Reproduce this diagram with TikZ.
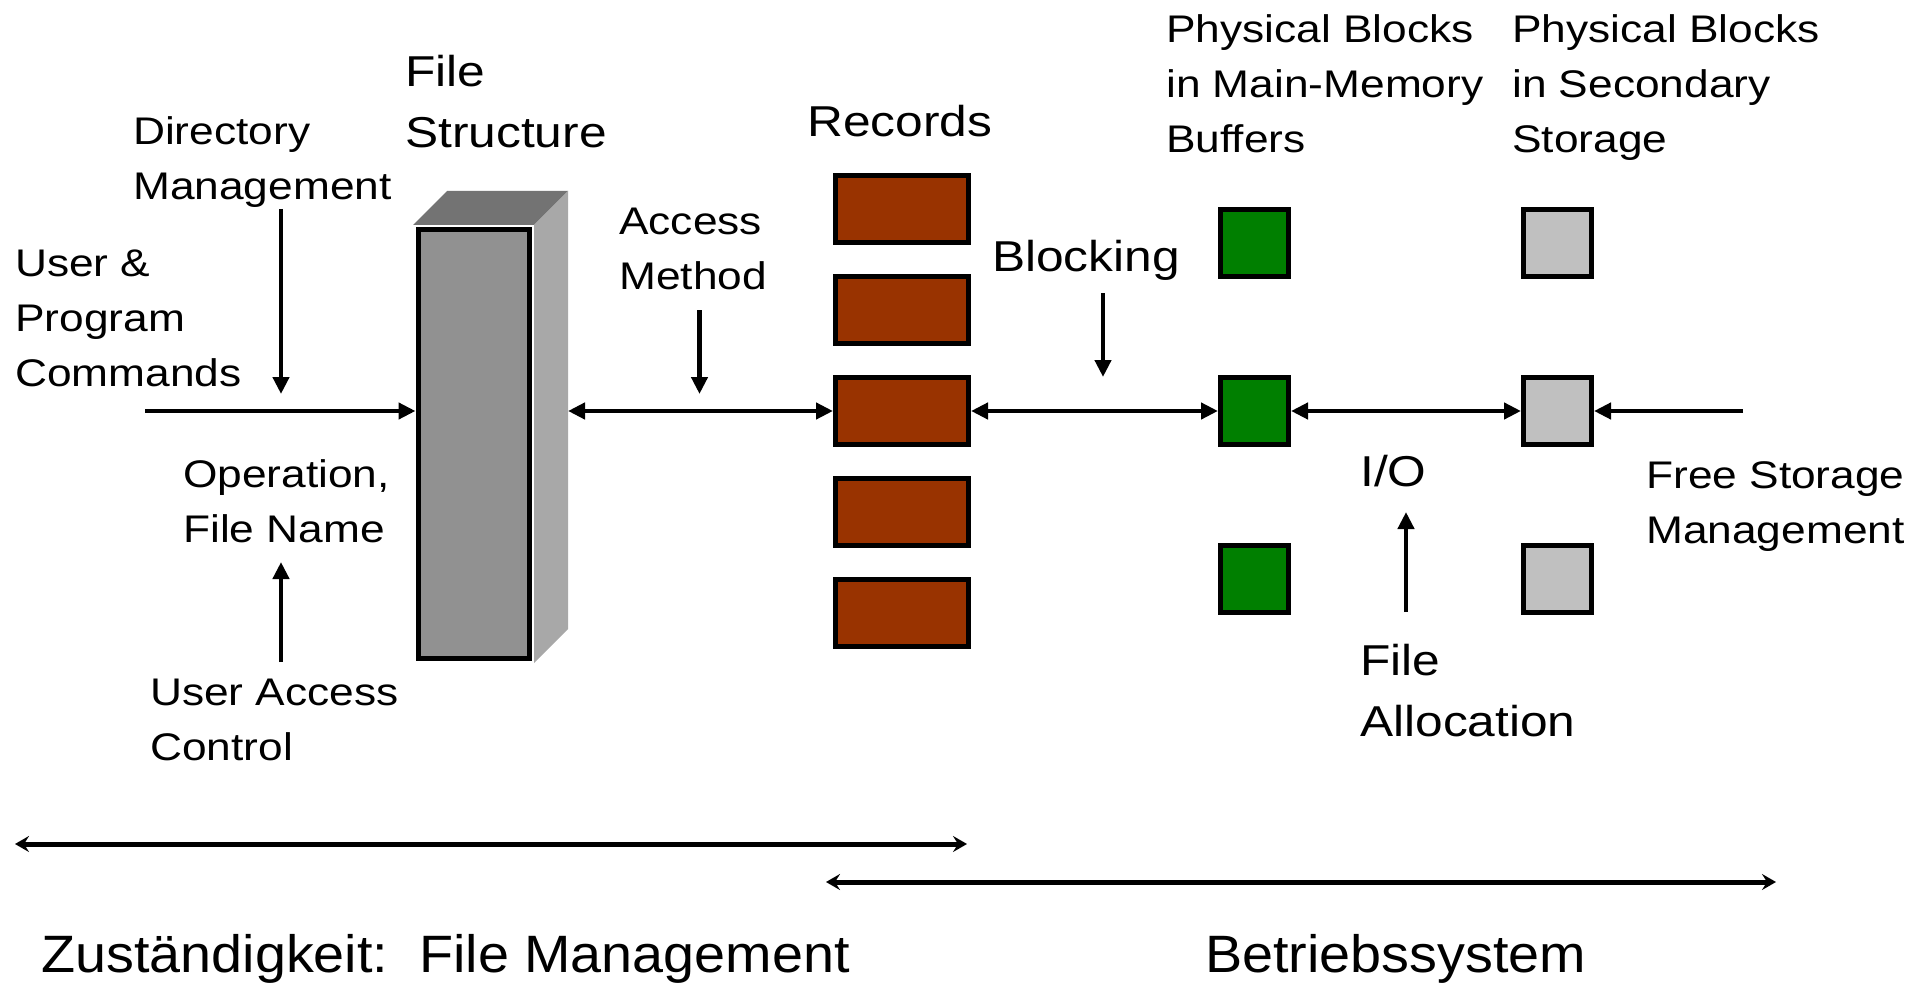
\documentclass[tikz,border=0pt]{standalone}
\usepackage{fontspec}
\usetikzlibrary{arrows.meta}
\newfontfamily\lblfont[FakeStretch=1.15]{Liberation Sans}
\newfontfamily\botfont[FakeStretch=1.06]{Liberation Sans}
\definecolor{recfill}{HTML}{993300}
\definecolor{memfill}{HTML}{007F00}
\definecolor{secfill}{HTML}{C0C0C0}
\definecolor{fsfront}{HTML}{919191}
\definecolor{fstop}{HTML}{737373}
\definecolor{fsside}{HTML}{A8A8A8}
\tikzset{
  % multi-line labels are placed by the baseline of their last line
  small/.style={font=\lblfont\fontsize{38.5}{55}\selectfont, align=left, anchor=base west, inner sep=0pt},
  large/.style={font=\lblfont\fontsize{43.2}{61}\selectfont, align=left, anchor=base west, inner sep=0pt},
  bottom/.style={font=\botfont\fontsize{52.6}{60}\selectfont, anchor=base west, inner sep=0pt},
  recbox/.style={draw=black, line width=5pt, fill=recfill, minimum width=133pt, minimum height=67pt, inner sep=0pt},
  blk/.style={draw=black, line width=5pt, minimum width=68pt, minimum height=67pt, inner sep=0pt},
  tip/.tip={Triangle[length=17pt,width=16pt]},
  flow/.style={line width=4.5pt, -tip},
  bothflow/.style={line width=4.5pt, tip-tip},
  span/.style={line width=5pt, {Stealth[length=14pt,width=16pt,inset=5pt]}-{Stealth[length=14pt,width=16pt,inset=5pt]}},
}
\begin{document}
\begin{tikzpicture}[x=1pt, y=-1pt]
\useasboundingbox (0,0) rectangle (1931,987);

% file structure column: top and side faces behind the front face
\fill[fstop] (413,225) -- (534,225) -- (568,191) -- (447,191) -- cycle;
\fill[fsside] (534,225) -- (568,191) -- (568,629) -- (534,663) -- cycle;
\node[draw=black, line width=5pt, fill=fsfront, minimum width=111pt, minimum height=428pt, inner sep=0pt] (fs) at (473.5,444) {};
\coordinate (fsright) at (568,411);

% records
\foreach \i/\y in {1/209,2/310,3/411,4/512,5/613}
  \node[recbox] (rec\i) at (902,\y) {};

% blocks in main memory and in secondary storage
\foreach \i/\y in {1/243,2/411,3/579} {
  \node[blk, fill=memfill] (mem\i) at (1254.5,\y) {};
  \node[blk, fill=secfill] (sec\i) at (1557.5,\y) {};
}

% labels
\node[large] (fslbl) at (405,148) {File\\Structure};
\node[small] (dirlbl) at (133,199.5) {Directory\\Management};
\node[small] (userlbl) at (15,386.5) {User \&\\Program\\Commands};
\node[small] (oplbl) at (183,542) {Operation,\\File Name};
\node[small] (acclbl) at (150,760) {User Access\\Control};
\node[small] (amlbl) at (619,289.5) {Access\\Method};
\node[large] (reclbl) at (807,137) {Records};
\node[large] (blklbl) at (992,272) {Blocking};
\node[small] (memlbl) at (1166,152.5) {Physical Blocks\\in Main-Memory\\Buffers};
\node[small] (seclbl) at (1512,152.5) {Physical Blocks\\in Secondary\\Storage};
\node[small] (freelbl) at (1646,543) {Free Storage\\Management};
\node[large] (iolbl) at (1360,486.5) {I/O};
\node[large] (alloclbl) at (1360,736.5) {File\\Allocation};
\node[bottom] (fmlbl) at (41,972) {Zuständigkeit:\ \ File Management};
\node[bottom] (oslbl) at (1205,972) {Betriebssystem};

% end points of the free connectors
\coordinate (cmdstart) at (145,411);
\coordinate (dirstart) at (281,209);
\coordinate (dirend) at (281,394);
\coordinate (uacstart) at (281,662);
\coordinate (uacend) at (281,562);
\coordinate (amstart) at (699.5,310);
\coordinate (amend) at (699.5,394);
\coordinate (blkstart) at (1103,293);
\coordinate (blkend) at (1103,377);
\coordinate (allocstart) at (1406,612);
\coordinate (allocend) at (1406,512);
\coordinate (freestart) at (1743,411);
\coordinate (fmleft) at (15,844);
\coordinate (fmright) at (967,844);
\coordinate (osleft) at (826,882);
\coordinate (osright) at (1776,882);

% main data path
\draw[flow] (cmdstart) -- (cmdstart -| fs.west);
\draw[bothflow] (fsright) -- (rec3.west);
\draw[bothflow] (rec3.east) -- (mem2.west);
\draw[bothflow] (mem2.east) -- (sec2.west);
\draw[flow] (freestart) -- (sec2.east);

% side inputs
\draw[flow] (dirstart) -- (dirend);
\draw[flow] (uacstart) -- (uacend);
\draw[flow] (amstart) -- (amend);
\draw[flow] (blkstart) -- (blkend);
\draw[flow] (allocstart) -- (allocend);

% areas of responsibility
\draw[span] (fmleft) -- (fmright);
\draw[span] (osleft) -- (osright);
\end{tikzpicture}
\end{document}
